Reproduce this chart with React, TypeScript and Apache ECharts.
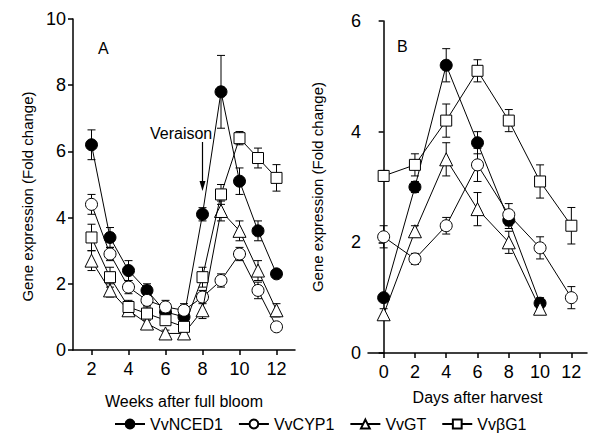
import React, { useEffect, useRef } from "react";
import * as echarts from "echarts";

const weeks = [2, 3, 4, 5, 6, 7, 8, 9, 10, 11, 12];
const days = [0, 2, 4, 6, 8, 10, 12];

const seriesNames = ["VvNCED1", "VvCYP1", "VvGT", "VvβG1"];

// Panel A (weeks after full bloom)
const aNCED1 = [6.2, 3.4, 2.4, 1.8, 1.15, 1.0, 4.1, 7.8, 5.1, 3.6, 2.3];
const aNCED1Err = [0.45, 0.3, 0.3, 0.2, 0.15, 0.12, 0.2, 1.1, 0.4, 0.3, 0.1];
const aCYP1 = [4.4, 2.9, 1.9, 1.5, 1.3, 1.2, 1.6, 2.1, 2.9, 1.8, 0.7];
const aCYP1Err = [0.3, 0.2, 0.2, 0.15, 0.2, 0.2, 0.2, 0.2, 0.2, 0.25, 0.1];
const aGT = [2.7, 1.8, 1.2, 0.8, 0.5, 0.5, 1.2, 4.2, 3.6, 2.4, 1.2];
const aGTErr = [0.3, 0.2, 0.15, 0.15, 0.1, 0.1, 0.25, 0.3, 0.3, 0.3, 0.2];
const aBG1 = [3.4, 2.2, 1.3, 1.1, 0.9, 0.7, 2.2, 4.7, 6.4, 5.8, 5.2];
const aBG1Err = [0.4, 0.3, 0.2, 0.2, 0.15, 0.1, 0.3, 0.3, 0.2, 0.3, 0.4];

// Panel B (days after harvest)
const bNCED1 = [1.0, 3.0, 5.2, 3.8, 2.4, 0.9, null];
const bNCED1Err = [0.05, 0.1, 0.3, 0.2, 0.15, 0.1, null];
const bCYP1 = [2.1, 1.7, 2.3, 3.4, 2.5, 1.9, 1.0];
const bCYP1Err = [0.2, 0.1, 0.15, 0.3, 0.2, 0.2, 0.2];
const bGT = [0.7, 2.2, 3.5, 2.6, 2.0, 0.8, null];
const bGTErr = [0.1, 0.1, 0.3, 0.3, 0.2, 0.1, null];
const bBG1 = [3.2, 3.4, 4.2, 5.1, 4.2, 3.1, 2.3];
const bBG1Err = [0.1, 0.2, 0.3, 0.2, 0.2, 0.3, 0.33];

const yTicksA = [0, 2, 4, 6, 8, 10];
const yTicksB = [0, 2, 4, 6];
const xTicksA = [2, 4, 6, 8, 10, 12];
const xTicksB = [0, 2, 4, 6, 8, 10, 12];

const FONT = "'Liberation Sans', Arial, sans-serif";

const symbols = ["circle", "circle", "triangle", "rect"];
const fills = ["#000", "#fff", "#fff", "#fff"];
const sizes = [12, 12, 13, 11];

function pairs(xs: number[], ys: (number | null)[]) {
  const out: any[] = [];
  xs.forEach((x, i) => {
    if (ys[i] !== null && ys[i] !== undefined) out.push([x, ys[i]]);
  });
  return out;
}

function errPairs(xs: number[], ys: (number | null)[], es: (number | null)[]) {
  const out: any[] = [];
  xs.forEach((x, i) => {
    const y = ys[i];
    const e = es[i];
    if (y !== null && y !== undefined && e !== null && e !== undefined)
      out.push([x, y - e, y + e]);
  });
  return out;
}

function errorSeries(idx: number, data: any[]) {
  return {
    type: "custom",
    xAxisIndex: idx,
    yAxisIndex: idx,
    silent: true,
    z: 1,
    data,
    renderItem: (params: any, api: any) => {
      const x = api.value(0);
      const lo = api.coord([x, api.value(1)]);
      const hi = api.coord([x, api.value(2)]);
      const w = 4;
      const style = { stroke: "#000", lineWidth: 1 };
      return {
        type: "group",
        children: [
          { type: "line", shape: { x1: lo[0], y1: lo[1], x2: hi[0], y2: hi[1] }, style },
          { type: "line", shape: { x1: hi[0] - w, y1: hi[1], x2: hi[0] + w, y2: hi[1] }, style },
          { type: "line", shape: { x1: lo[0] - w, y1: lo[1], x2: lo[0] + w, y2: lo[1] }, style },
        ],
      };
    },
  };
}

function lineSeries(idx: number, k: number, data: any[]) {
  return {
    type: "line",
    name: seriesNames[k],
    xAxisIndex: idx,
    yAxisIndex: idx,
    data,
    z: 3 + k,
    symbol: symbols[k],
    symbolSize: sizes[k],
    showAllSymbol: true,
    lineStyle: { color: "#000", width: 1 },
    itemStyle: { color: fills[k], borderColor: "#000", borderWidth: 1 },
  };
}

export default function App() {
  const ref = useRef<HTMLDivElement>(null);
  useEffect(() => {
    document.body.style.margin = "0";
    if (!ref.current) return;
    const chart = echarts.init(ref.current, undefined, { renderer: "svg" });

    const axisCommon = {
      axisLine: { show: true, lineStyle: { color: "#000", width: 1.5 } },
      axisTick: { show: true, inside: false, length: 5, lineStyle: { color: "#000", width: 1.5 } },
      splitLine: { show: false },
      nameTextStyle: { fontFamily: FONT, fontSize: 15, color: "#000" },
    };
    const xName = { fontFamily: FONT, fontSize: 16, color: "#000" };

    const aSets = [
      [aNCED1, aNCED1Err],
      [aCYP1, aCYP1Err],
      [aGT, aGTErr],
      [aBG1, aBG1Err],
    ];
    const bSets = [
      [bNCED1, bNCED1Err],
      [bCYP1, bCYP1Err],
      [bGT, bGTErr],
      [bBG1, bBG1Err],
    ];

    const series: any[] = [];
    aSets.forEach(([v, e]) => {
      series.push(errorSeries(0, errPairs(weeks, v as any, e as any)));
    });
    bSets.forEach(([v, e]) => {
      series.push(errorSeries(1, errPairs(days, v as any, e as any)));
    });
    aSets.forEach(([v], k) => {
      series.push(lineSeries(0, k, pairs(weeks, v as any)));
    });
    bSets.forEach(([v], k) => {
      series.push(lineSeries(1, k, pairs(days, v as any)));
    });

    const tickLabel = { fontFamily: FONT, fontSize: 18, color: "#000" };

    chart.setOption({
      animation: false,
      backgroundColor: "#fff",
      textStyle: { fontFamily: FONT },
      grid: [
        { left: 73, top: 19, width: 222, height: 331 },
        { left: 368, top: 21, width: 219, height: 332 },
      ],
      xAxis: [
        {
          ...axisCommon,
          gridIndex: 0,
          type: "value",
          min: 1,
          max: 13,
          name: "Weeks after full bloom",
          nameLocation: "middle",
          nameGap: 43,
          nameTextStyle: xName,
          axisTick: { ...axisCommon.axisTick, customValues: xTicksA },
          axisLabel: { ...tickLabel, customValues: xTicksA, margin: 10 },
        },
        {
          ...axisCommon,
          gridIndex: 1,
          type: "value",
          min: -1,
          max: 13,
          name: "Days after harvest",
          nameLocation: "middle",
          nameGap: 36,
          nameTextStyle: xName,
          axisTick: { ...axisCommon.axisTick, customValues: xTicksB },
          axisLabel: { ...tickLabel, customValues: xTicksB, margin: 10 },
        },
      ],
      yAxis: [
        {
          ...axisCommon,
          gridIndex: 0,
          type: "value",
          min: 0,
          max: 10,
          name: "Gene expression (Fold change)",
          nameLocation: "middle",
          nameGap: 38,
          nameTextStyle: { ...axisCommon.nameTextStyle, padding: [0, 0, 0, -24] },
          axisTick: { ...axisCommon.axisTick, customValues: yTicksA },
          axisLabel: { ...tickLabel, customValues: yTicksA, margin: 7 },
        },
        {
          ...axisCommon,
          gridIndex: 1,
          type: "value",
          min: 0,
          max: 6,
          name: "Gene expression (Fold change)",
          nameLocation: "middle",
          nameGap: 43,
          axisTick: { ...axisCommon.axisTick, customValues: yTicksB },
          axisLabel: { ...tickLabel, customValues: yTicksB, margin: 7 },
        },
      ],
      legend: {
        data: seriesNames,
        bottom: 5,
        left: 109,
        itemWidth: 30,
        itemHeight: 11,
        itemGap: 15,
        textStyle: { fontFamily: FONT, fontSize: 16, color: "#000" },
      },
      graphic: [
        { type: "text", x: 98, y: 40, style: { text: "A", font: `16px ${FONT}`, fill: "#000" } },
        { type: "text", x: 397, y: 38, style: { text: "B", font: `16px ${FONT}`, fill: "#000" } },
        { type: "text", x: 150, y: 125, style: { text: "Veraison", font: `16px ${FONT}`, fill: "#000" } },
        { type: "line", shape: { x1: 202.5, y1: 142, x2: 202.5, y2: 186 }, style: { stroke: "#000", lineWidth: 1.2 } },
        { type: "polygon", shape: { points: [[199.5, 181], [205.5, 181], [202.5, 191]] }, style: { fill: "#000" } },
      ],
      series,
    });
    return () => chart.dispose();
  }, []);
  return <div ref={ref} style={{ width: 600, height: 442 }} />;
}
